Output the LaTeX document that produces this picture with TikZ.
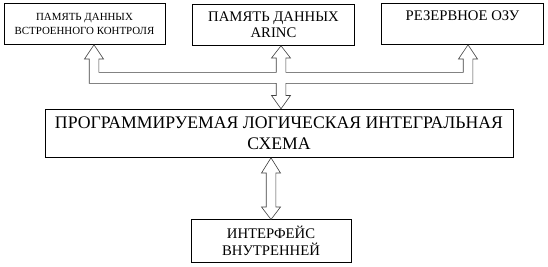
\documentclass[tikz,border=0pt]{standalone}
\usepackage{fontspec}
\setmainfont{Liberation Serif}

\begin{document}
\begin{tikzpicture}[x=1pt,y=-1pt,
  blok/.style={draw,line width=1pt,align=center,inner sep=0pt},
  shina/.style={draw=black!75,line width=0.6pt,line join=miter}]
  \useasboundingbox (0,0) rectangle (548,266);
  % upper row of memories
  \node[blok,minimum width=161pt,minimum height=41pt,
    font=\fontsize{10.9}{14}\selectfont] (bic) at (84.5,23.8)
    {ПАМЯТЬ ДАННЫХ\\ВСТРОЕННОГО КОНТРОЛЯ};
  \node[blok,minimum width=161.6pt,minimum height=41pt,
    font=\fontsize{14.7}{16}\selectfont] (arinc) at (273.5,24.8)
    {ПАМЯТЬ ДАННЫХ\\ARINC};
  \node[blok,minimum width=161.6pt,minimum height=41pt,
    font=\fontsize{14.7}{16}\selectfont] (ozu) at (462.5,23.8)
    {РЕЗЕРВНОЕ ОЗУ\\\mbox{}};
  % FPGA and interface
  \node[blok,minimum width=468pt,minimum height=48pt,
    font=\fontsize{17.7}{21.5}\selectfont] (plis) at (279,133.3)
    {ПРОГРАММИРУЕМАЯ ЛОГИЧЕСКАЯ ИНТЕГРАЛЬНАЯ\\СХЕМА};
  \node[blok,minimum width=160pt,minimum height=42.7pt,
    font=\fontsize{14.7}{17}\selectfont] (iface) at (271,241.3)
    {ИНТЕРФЕЙС\\ВНУТРЕННЕЙ};
  % tips of the hollow arrows
  \coordinate (t1) at (bic.south -| 94,0);
  \coordinate (t2) at (arinc.south -| 281,0);
  \coordinate (t3) at (ozu.south -| 468,0);
  \coordinate (t4) at (plis.north -| 281,0);
  \coordinate (t5) at (plis.south -| 271,0);
  \coordinate (t6) at (iface.north -| 271,0);
  % common bus
  \draw[shina] (t1) -- (103.5,59) -- (98.8,59) -- (98.8,72.3)
    -- (276.2,72.3) -- (276.2,58) -- (271.5,58) -- (t2)
    -- (290.5,58) -- (285.8,58) -- (285.8,72.3)
    -- (463.2,72.3) -- (463.2,59) -- (458.5,59) -- (t3)
    -- (477.5,59) -- (472.8,59) -- (472.8,83.3)
    -- (285.8,83.3) -- (285.8,95.5) -- (290.5,95.5) -- (t4)
    -- (271.5,95.5) -- (276.2,95.5) -- (276.2,83.3)
    -- (89.2,83.3) -- (89.2,59) -- (84.5,59) -- cycle;
  % link to the interface
  \draw[shina] (t5) -- (280.5,173) -- (275.8,173) -- (275.8,207)
    -- (280.5,207) -- (t6) -- (261.5,207) -- (266.2,207)
    -- (266.2,173) -- (261.5,173) -- cycle;
\end{tikzpicture}
\end{document}
